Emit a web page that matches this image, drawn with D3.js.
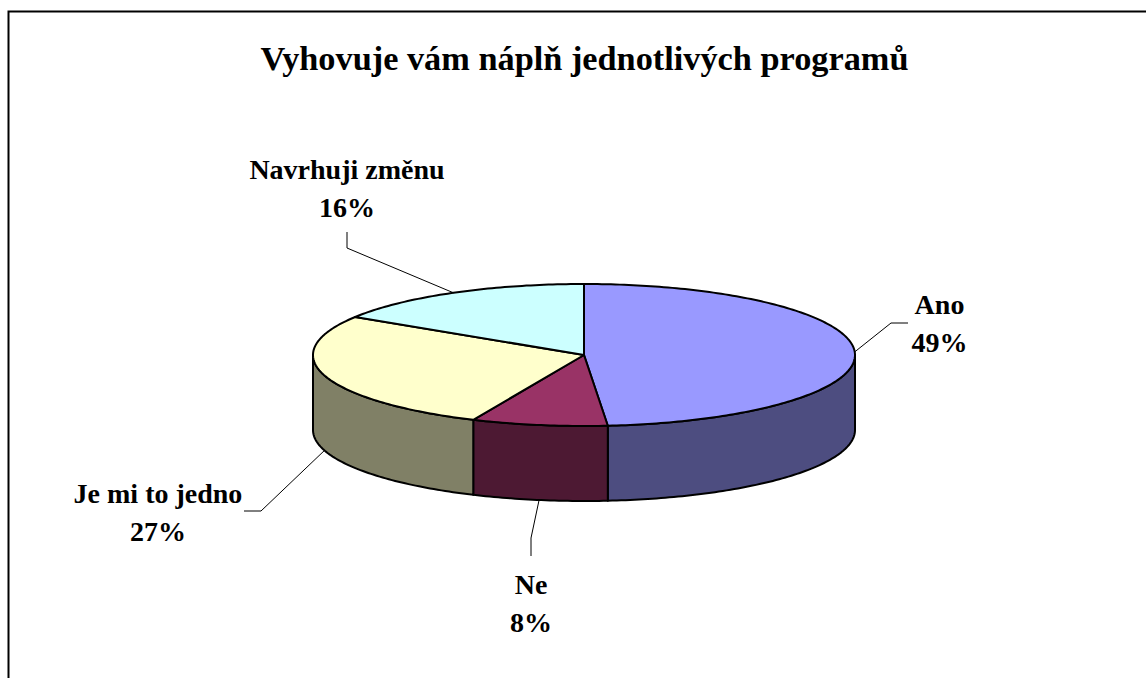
<!DOCTYPE html>
<html>
<head>
<meta charset="utf-8">
<script src="https://cdn.jsdelivr.net/npm/d3@7"></script>
<style>
  html, body { margin: 0; padding: 0; background: #fff; overflow: hidden; }
  svg { display: block; }
  text { font-family: "Liberation Serif", serif; font-weight: bold; fill: #000; text-anchor: middle; }
</style>
</head>
<body>
<svg width="1146" height="678"></svg>
<script>
var title = "Vyhovuje vám náplň jednotlivých programů";

var categories = ["Ano", "Ne", "Je mi to jedno", "Navrhuji změnu"];
var values = [48.6, 8.1, 27.3, 16];

var topColors = ["#9999ff", "#993366", "#ffffcc", "#ccffff"];
var sideColors = ["#4d4d80", "#4d1933", "#808066", "#668080"];

var svg = d3.select("svg");
var cx = 584, cy = 355, rx = 271, ry = 71, depth = 75;

// pie is tilted: unit circle mapped on an ellipse
var x = d3.scaleLinear().domain([-1, 1]).range([cx - rx, cx + rx]);
var y = d3.scaleLinear().domain([-1, 1]).range([cy - ry, cy + ry]);

// label block and leader elbow/end for each slice
var labelLayout = [
  {x: 939.5, y: 314, elbow: [891, 323], end: [908, 323]},
  {x: 531, y: 594, elbow: [531, 538], end: [531, 556]},
  {x: 158, y: 503, elbow: [261, 511], end: [244, 511]},
  {x: 347, y: 179, elbow: [347, 248], end: [347, 232]}
];

// only the top and left edges of the frame are in the picture
svg.append("path")
  .attr("d", "M8.5,678V11.5H1146")
  .attr("fill", "none").attr("stroke", "#000").attr("stroke-width", 2);

svg.append("text")
  .attr("x", 584.5).attr("y", 70)
  .attr("font-size", 34.3)
  .text(title);

var pie = d3.pie().sort(null)(values);
var line = d3.line();

function pt(a, dy) {
  return [x(Math.sin(a)), y(-Math.cos(a)) + (dy || 0)];
}

function arcPts(a0, a1, dy) {
  var n = Math.max(2, Math.ceil((a1 - a0) * 60));
  return d3.range(n + 1).map(function(i) { return pt(a0 + (a1 - a0) * i / n, dy); });
}

// side walls, only the front half shows
var walls = svg.append("g");
pie.forEach(function(d, i) {
  var a0 = Math.max(d.startAngle, Math.PI / 2);
  var a1 = Math.min(d.endAngle, Math.PI * 1.5);
  if (a1 <= a0) return;
  var pts = arcPts(a0, a1, 0).concat(arcPts(a0, a1, depth).reverse());
  walls.append("path")
    .attr("d", line(pts) + "Z")
    .attr("fill", sideColors[i])
    .attr("stroke", "#000").attr("stroke-width", 2).attr("stroke-linejoin", "round");
});

// top slices
var tops = svg.append("g");
pie.forEach(function(d, i) {
  var pts = [[cx, cy]].concat(arcPts(d.startAngle, d.endAngle, 0));
  tops.append("path")
    .attr("d", line(pts) + "Z")
    .attr("fill", topColors[i])
    .attr("stroke", "#000").attr("stroke-width", 2).attr("stroke-linejoin", "round");
});

// leader lines start on the slice edge at its mid angle
pie.forEach(function(d, i) {
  var mid = (d.startAngle + d.endAngle) / 2;
  var front = Math.cos(mid) < 0 && Math.abs(Math.sin(mid)) < 0.98;
  var start = pt(mid, front ? depth : 0);
  svg.append("path")
    .attr("d", line([start, labelLayout[i].elbow, labelLayout[i].end]))
    .attr("fill", "none").attr("stroke", "#000").attr("stroke-width", 1);
});

// data labels
categories.forEach(function(c, i) {
  var t = svg.append("text").attr("font-size", 28);
  t.append("tspan").attr("x", labelLayout[i].x).attr("y", labelLayout[i].y).text(c);
  t.append("tspan").attr("x", labelLayout[i].x).attr("y", labelLayout[i].y + 37.5).text(Math.round(values[i]) + "%");
});
</script>
</body>
</html>
